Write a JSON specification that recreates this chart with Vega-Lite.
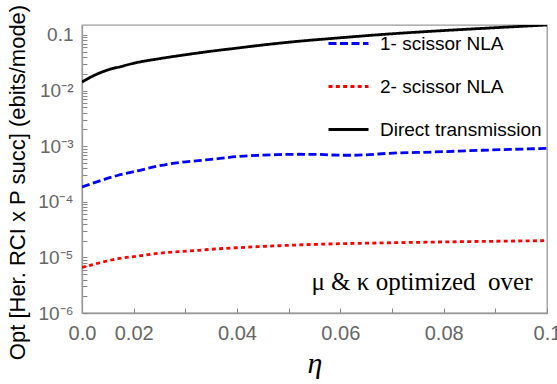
{
  "$schema": "https://vega.github.io/schema/vega-lite/v6.json",
  "width": 465,
  "height": 288,
  "autosize": {"type": "none"},
  "padding": {"left": 82, "top": 25, "right": 10, "bottom": 71},
  "background": "white",
  "config": {
    "view": {"stroke": "#999999", "strokeWidth": 1.3},
    "font": "Liberation Sans",
    "axis": {"domainColor": "#999999", "domainWidth": 1.3, "tickColor": "#888888", "labelColor": "#666666", "labelFont": "Liberation Sans", "grid": false}
  },
  "datasets": {
    "curves": [
      {"series": "1- scissor NLA", "eta": 0.01, "value": 0.000185},
      {"series": "1- scissor NLA", "eta": 0.013, "value": 0.00023},
      {"series": "1- scissor NLA", "eta": 0.017, "value": 0.0003},
      {"series": "1- scissor NLA", "eta": 0.021, "value": 0.000365},
      {"series": "1- scissor NLA", "eta": 0.025, "value": 0.000445},
      {"series": "1- scissor NLA", "eta": 0.029, "value": 0.00051},
      {"series": "1- scissor NLA", "eta": 0.0325, "value": 0.00055},
      {"series": "1- scissor NLA", "eta": 0.036, "value": 0.00059},
      {"series": "1- scissor NLA", "eta": 0.04, "value": 0.00065},
      {"series": "1- scissor NLA", "eta": 0.044, "value": 0.000685},
      {"series": "1- scissor NLA", "eta": 0.048, "value": 0.000705},
      {"series": "1- scissor NLA", "eta": 0.052, "value": 0.000715},
      {"series": "1- scissor NLA", "eta": 0.0555, "value": 0.000712},
      {"series": "1- scissor NLA", "eta": 0.058, "value": 0.000695},
      {"series": "1- scissor NLA", "eta": 0.062, "value": 0.000686},
      {"series": "1- scissor NLA", "eta": 0.065, "value": 0.0007},
      {"series": "1- scissor NLA", "eta": 0.0695, "value": 0.000745},
      {"series": "1- scissor NLA", "eta": 0.078, "value": 0.000785},
      {"series": "1- scissor NLA", "eta": 0.0875, "value": 0.000845},
      {"series": "1- scissor NLA", "eta": 0.1, "value": 0.00091},
      {"series": "2- scissor NLA", "eta": 0.01, "value": 0.0000066},
      {"series": "2- scissor NLA", "eta": 0.013, "value": 0.0000078},
      {"series": "2- scissor NLA", "eta": 0.017, "value": 0.0000095},
      {"series": "2- scissor NLA", "eta": 0.021, "value": 0.0000106},
      {"series": "2- scissor NLA", "eta": 0.025, "value": 0.0000119},
      {"series": "2- scissor NLA", "eta": 0.029, "value": 0.0000127},
      {"series": "2- scissor NLA", "eta": 0.0325, "value": 0.0000134},
      {"series": "2- scissor NLA", "eta": 0.036, "value": 0.0000142},
      {"series": "2- scissor NLA", "eta": 0.04, "value": 0.0000149},
      {"series": "2- scissor NLA", "eta": 0.044, "value": 0.0000156},
      {"series": "2- scissor NLA", "eta": 0.048, "value": 0.0000162},
      {"series": "2- scissor NLA", "eta": 0.0555, "value": 0.0000172},
      {"series": "2- scissor NLA", "eta": 0.065, "value": 0.000018},
      {"series": "2- scissor NLA", "eta": 0.0755, "value": 0.0000187},
      {"series": "2- scissor NLA", "eta": 0.088, "value": 0.0000194},
      {"series": "2- scissor NLA", "eta": 0.1, "value": 0.00002},
      {"series": "Direct transmission", "eta": 0.01, "value": 0.0143},
      {"series": "Direct transmission", "eta": 0.0125, "value": 0.019},
      {"series": "Direct transmission", "eta": 0.015, "value": 0.0235},
      {"series": "Direct transmission", "eta": 0.0175, "value": 0.027},
      {"series": "Direct transmission", "eta": 0.02, "value": 0.031},
      {"series": "Direct transmission", "eta": 0.025, "value": 0.0375},
      {"series": "Direct transmission", "eta": 0.03, "value": 0.044},
      {"series": "Direct transmission", "eta": 0.035, "value": 0.051},
      {"series": "Direct transmission", "eta": 0.04, "value": 0.058},
      {"series": "Direct transmission", "eta": 0.045, "value": 0.066},
      {"series": "Direct transmission", "eta": 0.05, "value": 0.074},
      {"series": "Direct transmission", "eta": 0.06, "value": 0.089},
      {"series": "Direct transmission", "eta": 0.07, "value": 0.105},
      {"series": "Direct transmission", "eta": 0.08, "value": 0.12},
      {"series": "Direct transmission", "eta": 0.09, "value": 0.135},
      {"series": "Direct transmission", "eta": 0.1, "value": 0.151}
    ],
    "note": [{"text": "μ & κ optimized \u00a0over"}]
  },
  "layer": [
    {
      "data": {"name": "curves"},
      "mark": {"type": "line", "strokeWidth": 2.8, "interpolate": "monotone", "clip": true},
      "encoding": {
        "x": {
          "field": "eta", "type": "quantitative",
          "scale": {"domain": [0.01, 0.1], "nice": false, "zero": false},
          "axis": {
            "orient": "bottom",
            "values": [0.01, 0.015, 0.02, 0.025, 0.03, 0.035, 0.04, 0.045, 0.05, 0.055, 0.06, 0.065, 0.07, 0.075, 0.08, 0.085, 0.09, 0.095, 0.1],
            "labelExpr": "abs(datum.value-0.01)<1e-9 ? '0.0' : (abs(datum.value*50 - round(datum.value*50)) < 1e-6 ? (datum.value > 0.099 ? '0.1' : format(datum.value, '.2f')) : '')",
            "labelFlush": false, "labelOverlap": false, "labelFontSize": 20, "labelPadding": 15,
            "tickSize": -5,
            "title": "η", "titleFont": "Liberation Serif", "titleFontStyle": "italic", "titleFontWeight": "normal", "titleFontSize": 30, "titleColor": "black",
            "titleY": 50, "titleBaseline": "middle"
          }
        },
        "y": {
          "field": "value", "type": "quantitative",
          "scale": {"type": "log", "domain": [0.000001, 0.151], "nice": false},
          "axis": {
            "orient": "left",
            "values": [0.000001, 0.000002, 0.000003, 0.000004, 0.000005, 0.000006, 0.000007, 0.000008, 0.000009, 0.00001, 0.00002, 0.00003, 0.00004, 0.00005, 0.00006, 0.00007, 0.00008, 0.00009, 0.0001, 0.0002, 0.0003, 0.0004, 0.0005, 0.0006, 0.0007, 0.0008, 0.0009, 0.001, 0.002, 0.003, 0.004, 0.005, 0.006, 0.007, 0.008, 0.009, 0.01, 0.02, 0.03, 0.04, 0.05, 0.06, 0.07, 0.08, 0.09, 0.1],
            "labelExpr": "(abs(log(datum.value)/LN10 - round(log(datum.value)/LN10)) < 1e-6) ? ['0.1','10⁻²','10⁻³','10⁻⁴','10⁻⁵','10⁻⁶'][-round(log(datum.value)/LN10)-1] : ''",
            "labelOverlap": false, "labelFontSize": 19, "labelPadding": 14,
            "tickSize": -5,
            "title": "Opt [Her. RCI x P succ] (ebits/mode)", "titleFont": "Liberation Sans", "titleFontWeight": "normal", "titleFontSize": 22, "titleColor": "black",
            "titleAngle": 270, "titleX": -65, "titleY": 157, "titleAlign": "center", "titleBaseline": "middle"
          }
        },
        "color": {
          "field": "series", "type": "nominal",
          "scale": {"domain": ["1- scissor NLA", "2- scissor NLA", "Direct transmission"], "range": ["#0000ff", "#ff0000", "#000000"]},
          "legend": {"orient": "none", "legendX": 245, "legendY": -3, "title": null, "symbolType": "stroke", "symbolSize": 1600, "symbolStrokeWidth": 2.8, "labelFontSize": 19, "labelColor": "black", "labelFont": "Liberation Sans", "labelOffset": 10, "labelLimit": 400, "rowPadding": 11, "padding": 0}
        },
        "strokeDash": {
          "field": "series", "type": "nominal",
          "scale": {"domain": ["1- scissor NLA", "2- scissor NLA", "Direct transmission"], "range": [[8, 3.5], [4, 3.3], [1, 0]]},
          "legend": {"orient": "none", "legendX": 245, "legendY": -3, "title": null, "symbolType": "stroke", "symbolSize": 1600, "symbolStrokeWidth": 2.8, "labelFontSize": 19, "labelColor": "black", "labelFont": "Liberation Sans", "labelOffset": 10, "labelLimit": 400, "rowPadding": 11, "padding": 0}
        }
      }
    },
    {
      "data": {"name": "note"},
      "mark": {"type": "text", "font": "Liberation Serif", "fontSize": 25, "align": "right", "baseline": "middle", "color": "black"},
      "encoding": {
        "x": {"datum": 0.0972, "type": "quantitative"},
        "y": {"datum": 0.0000036, "type": "quantitative"},
        "text": {"field": "text"}
      }
    }
  ]
}
